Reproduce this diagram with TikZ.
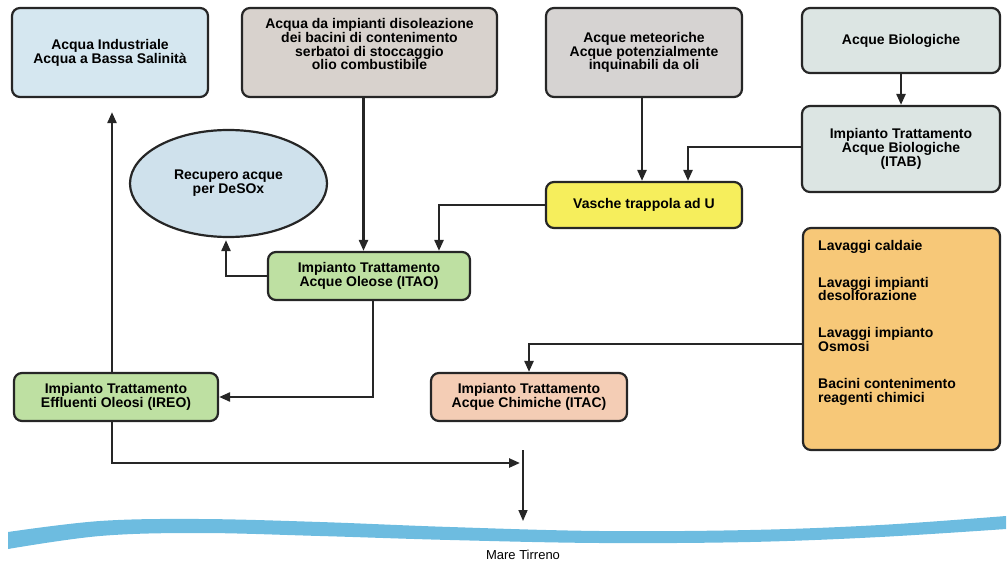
\documentclass[tikz,border=0pt]{standalone}
\usepackage{fontspec}
\setmainfont{Liberation Sans}
\usetikzlibrary{arrows.meta,shapes.geometric,calc}

\definecolor{edgegrey}{HTML}{262626}
\definecolor{fillind}{HTML}{D5E7F0}
\definecolor{filldis}{HTML}{D8D2CD}
\definecolor{fillmet}{HTML}{D6D3D2}
\definecolor{fillbio}{HTML}{DCE5E3}
\definecolor{fillell}{HTML}{CFE1EC}
\definecolor{fillvas}{HTML}{F6EE5C}
\definecolor{fillgreen}{HTML}{BEE0A2}
\definecolor{fillitac}{HTML}{F4CDB5}
\definecolor{fillchem}{HTML}{F7C878}
\definecolor{seablue}{HTML}{6DBCE0}

\newcommand{\boxfont}{\fontsize{14}{13.8}\selectfont\bfseries}

\begin{document}
\begin{tikzpicture}[x=1pt,y=-1pt,
  box/.style={draw=edgegrey, line width=2.2pt, rounded corners=8pt,
    inner sep=2pt, align=center, font=\boxfont},
  flow/.style={draw=edgegrey, line width=2.4pt,
    -{Triangle[length=11pt,width=9pt]}}
]
\useasboundingbox (0,0) rectangle (1008,564);

% source and treatment blocks
\node[box, fill=fillind, minimum width=196pt, minimum height=89pt] (ind) at (110,52.5)
  {Acqua Industriale\\Acqua a Bassa Salinità};
\node[box, fill=filldis, minimum width=255pt, minimum height=89pt] (dis) at (369.5,52.5)
  {Acqua da impianti disoleazione\\dei bacini di contenimento\\serbatoi di stoccaggio\\olio combustibile\\[3pt]};
\node[box, fill=fillmet, minimum width=196pt, minimum height=89pt] (met) at (644,52.5)
  {Acque meteoriche\\Acque potenzialmente\\inquinabili da oli};
\node[box, fill=fillbio, minimum width=198pt, minimum height=65pt] (bio) at (901,40.5)
  {Acque Biologiche};
\node[box, fill=fillbio, minimum width=198pt, minimum height=86pt] (itab) at (901,149)
  {Impianto Trattamento\\Acque Biologiche\\(ITAB)};
\node[ellipse, draw=edgegrey, line width=2.2pt, fill=fillell, inner sep=0pt,
  minimum width=197pt, minimum height=107pt, align=center, font=\boxfont] (ell) at (228.5,183.5)
  {Recupero acque\\per DeSOx};
\node[box, fill=fillvas, minimum width=196pt, minimum height=46pt] (vas) at (644,205)
  {Vasche trappola ad U};
\node[box, fill=fillgreen, minimum width=202pt, minimum height=48pt] (itao) at (369,276)
  {Impianto Trattamento\\Acque Oleose (ITAO)};
\node[box, fill=fillchem, minimum width=197pt, minimum height=222pt] (chem) at (901.5,339) {};
\node[anchor=north west, inner sep=0pt, align=left, font=\boxfont] (chemlist) at (818,240)
  {Lavaggi caldaie\\[23pt]Lavaggi impianti\\desolforazione\\[23pt]Lavaggi impianto\\Osmosi\\[23pt]Bacini contenimento\\reagenti chimici};
\node[box, fill=fillgreen, minimum width=204pt, minimum height=48pt] (ireo) at (116,397)
  {Impianto Trattamento\\Effluenti Oleosi (IREO)};
\node[box, fill=fillitac, minimum width=196pt, minimum height=48pt] (itac) at (529,397)
  {Impianto Trattamento\\Acque Chimiche (ITAC)};

% sea band, thicker on the left
\fill[seablue] plot[smooth, tension=0.6] coordinates
  {(8,532) (100,521) (200,519) (320,522) (450,527) (600,531) (750,530) (880,525) (1006,516)}
  -- plot[smooth, tension=0.6] coordinates
  {(1006,529) (880,537) (750,542) (600,543) (450,540) (320,536) (200,533) (100,536) (8,549)}
  -- cycle;
\node[font=\fontsize{13}{14}\selectfont] (mare) at (523,555) {Mare Tirreno};

\coordinate (mix) at (520,463);
\coordinate (outtop) at (523,450);
\coordinate (outsea) at (523,521);

% flows
\draw[flow] ([xshift=-6pt]dis.south) -- ([xshift=-6pt]dis.south |- itao.north);
\draw[flow] ([xshift=-2pt]met.south) -- ([xshift=-2pt]met.south |- vas.north);
\draw[flow] (bio.south) -- (itab.north);
\draw[flow] ([yshift=2pt]itab.west) -| ([xshift=44pt]vas.north);
\draw[flow] (vas.west) -| ([xshift=70pt]itao.north);
\draw[flow, shorten >=2pt] (itao.west) -| ([xshift=-2.5pt]ell.south);
\draw[flow] ([xshift=4pt]itao.south) |- (ireo.east);
\draw[flow, shorten >=14pt] ([xshift=-4pt]ireo.north) -- ([xshift=-4pt]ireo.north |- ind.south);
\draw[flow] ([xshift=-4pt]ireo.south) |- (mix);
\draw[flow, line width=1.6pt] (outtop) -- (outsea);
\draw[flow] ([yshift=-5pt]chem.west) -| (itac.north);
\end{tikzpicture}
\end{document}
